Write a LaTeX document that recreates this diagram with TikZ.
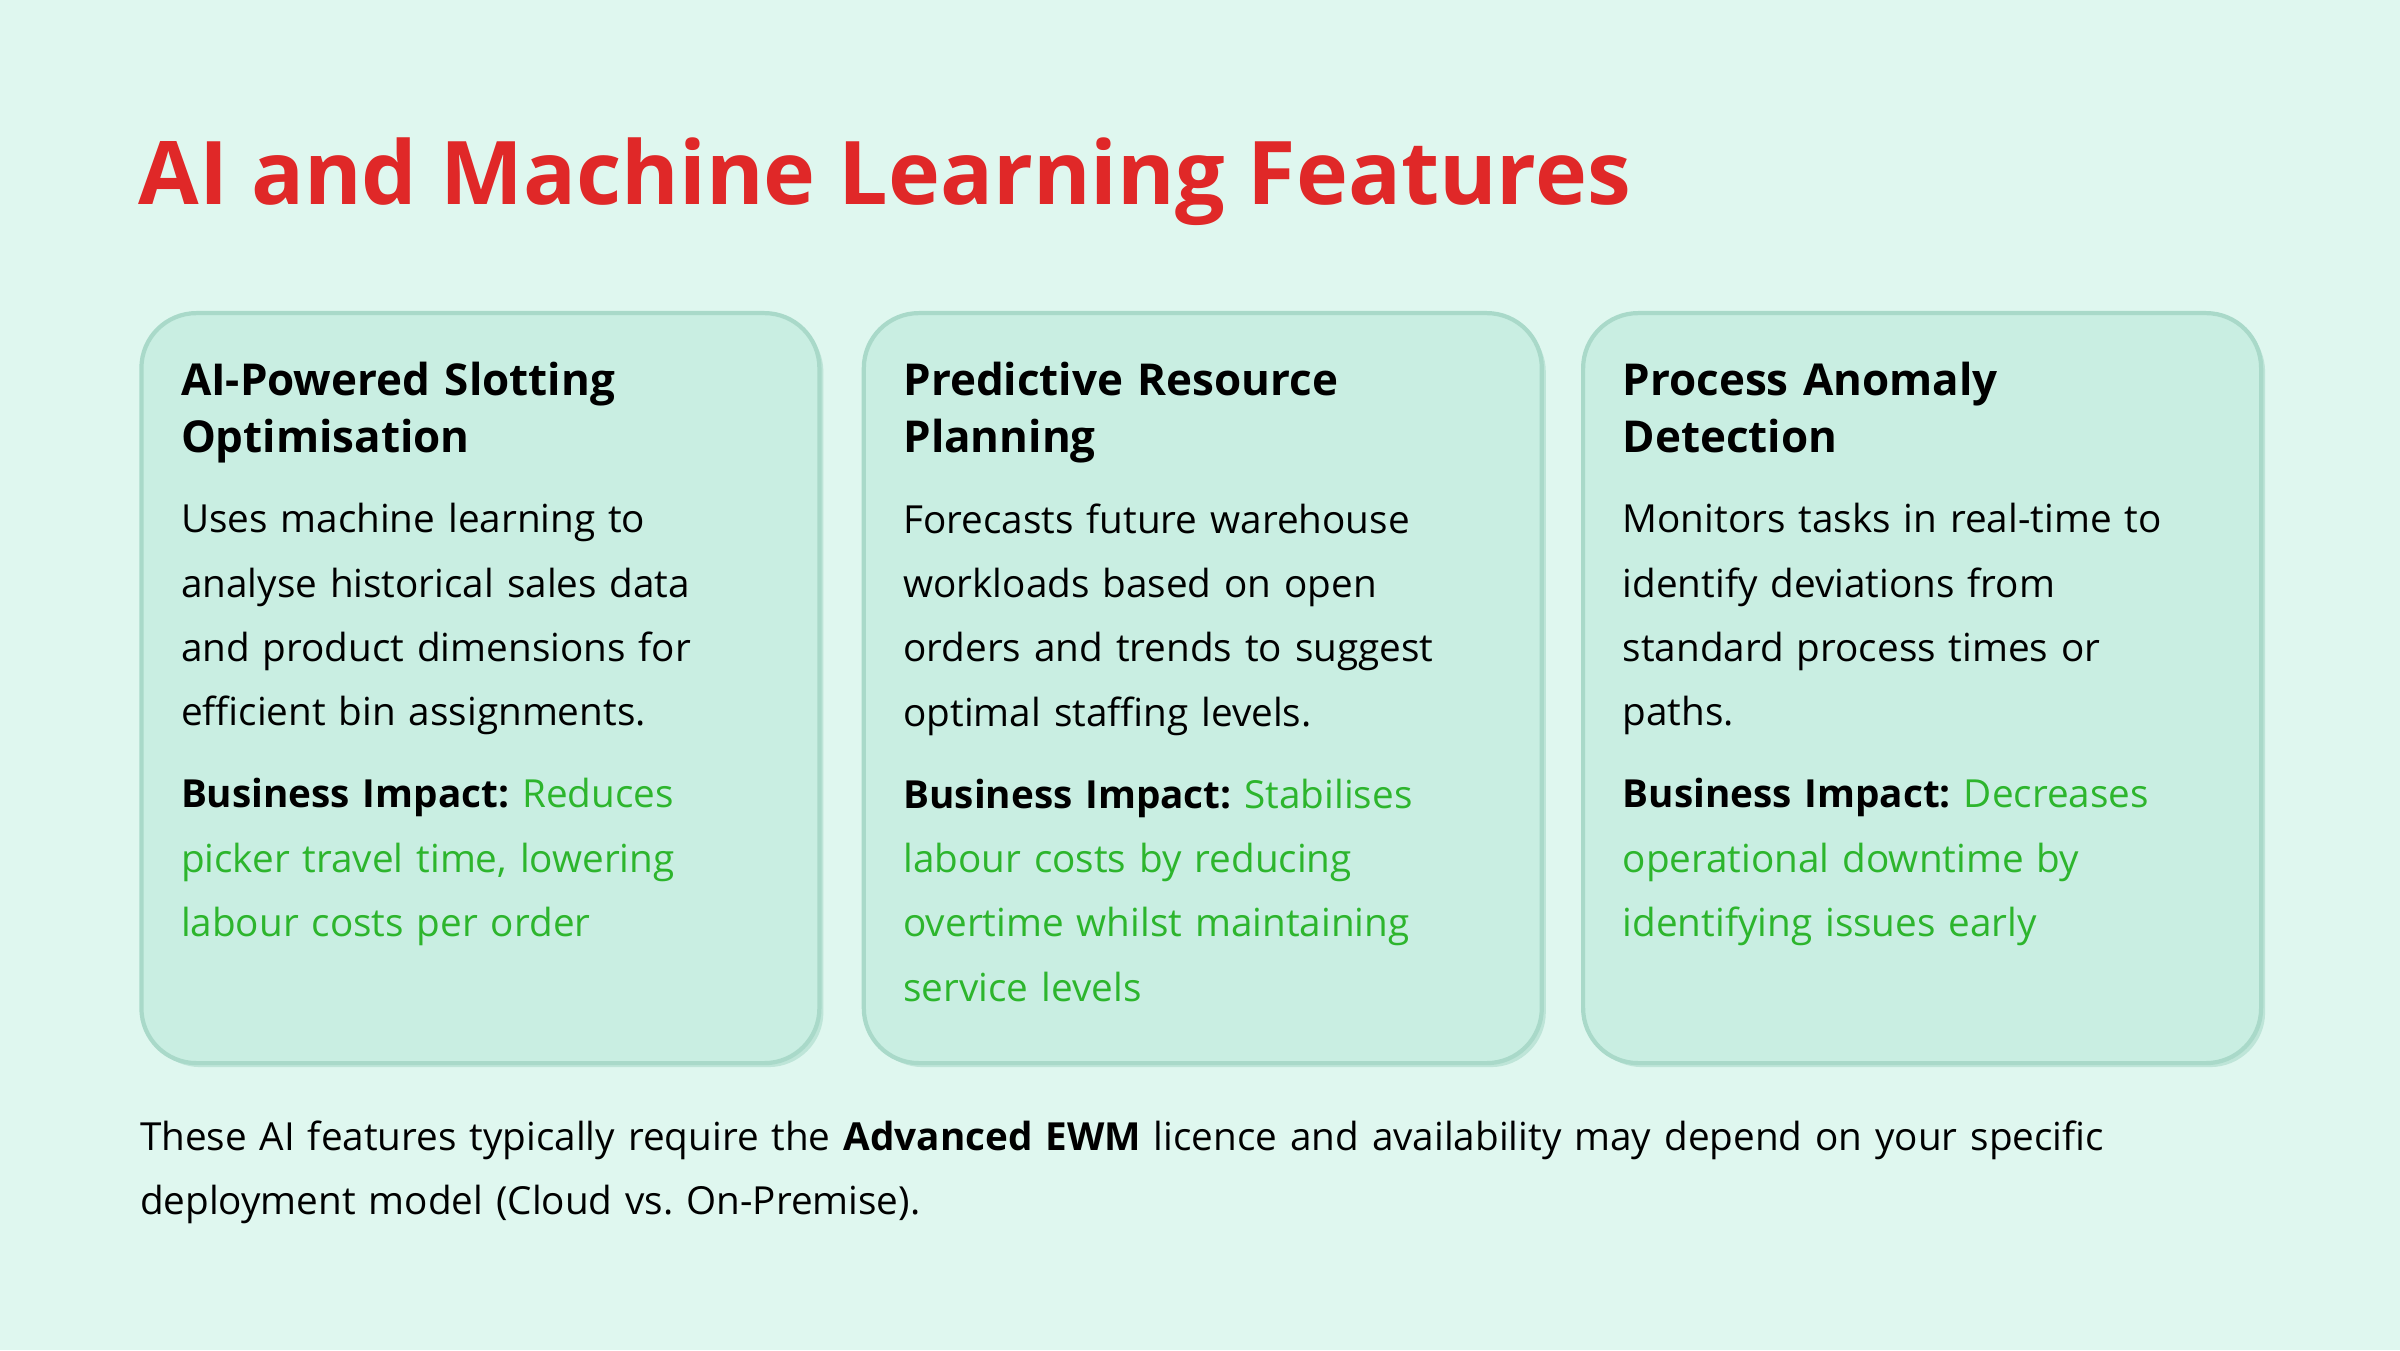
\documentclass[tikz,border=0pt]{standalone}
\usepackage{fontspec}
\setmainfont{Open Sans}
\usetikzlibrary{positioning,shadows}
\definecolor{bgmint}{HTML}{DFF7EF}
\definecolor{cardfill}{HTML}{C9EEE2}
\definecolor{cardline}{HTML}{A9D9C9}
\definecolor{titlered}{HTML}{E02828}
\definecolor{impactgreen}{HTML}{2DB52D}
\frenchspacing
\tikzset{
    card/.style={ % feature boxes
        draw=cardline, line width=1.2pt, fill=cardfill,
        rounded corners=0.55cm, minimum width=6.78cm, minimum height=7.5cm,
        anchor=north west, drop shadow={shadow xshift=0.04cm, shadow yshift=-0.04cm, fill=cardline, opacity=0.6}
    },
    head/.style={anchor=north west, text width=6.3cm, inner sep=0pt, align=left,
        font=\fontsize{12.5}{16.2}\selectfont\bfseries},
    body/.style={anchor=north west, text width=6.3cm, inner sep=0pt, align=left,
        font=\fontsize{11}{18.3}\selectfont},
}
\newcommand{\impact}[1]{\textbf{Business Impact:} \textcolor{impactgreen}{#1}}
\begin{document}
\begin{tikzpicture}
    \fill[bgmint] (0,0) rectangle (24,13.5);
    \useasboundingbox (0,0) rectangle (24,13.5);
    % title
    \node[anchor=base west, inner sep=0pt, text=titlered,
          font=\fontsize{25}{30}\selectfont\bfseries] (title) at (1.38,11.45)
          {AI and Machine Learning Features};
    % cards
    \node[card] (c1) at (1.393,10.39) {};
    \node[card] (c2) at (8.617,10.39) {};
    \node[card] (c3) at (15.81,10.39) {};
    % first card
    \node[head] (h1) at ([shift={(0.41,-0.5)}]c1.north west)
          {AI-Powered Slotting\\Optimisation\strut};
    \node[body, below=0.33cm of h1.south west, anchor=north west] (b1)
          {Uses machine learning to\\analyse historical sales data\\and product dimensions for\\efficient bin assignments.\strut};
    \node[body, below=0.32cm of b1.south west, anchor=north west] (i1)
          {\impact{Reduces\\picker travel time, lowering\\labour costs per order}};
    % second card
    \node[head] (h2) at ([shift={(0.41,-0.5)}]c2.north west)
          {Predictive Resource\\Planning\strut};
    \node[body, below=0.33cm of h2.south west, anchor=north west] (b2)
          {Forecasts future warehouse\\workloads based on open\\orders and trends to suggest\\optimal staffing levels.\strut};
    \node[body, below=0.32cm of b2.south west, anchor=north west] (i2)
          {\impact{Stabilises\\labour costs by reducing\\overtime whilst maintaining\\service levels}};
    % third card
    \node[head] (h3) at ([shift={(0.41,-0.5)}]c3.north west)
          {Process Anomaly\\Detection\strut};
    \node[body, below=0.33cm of h3.south west, anchor=north west] (b3)
          {Monitors tasks in real-time to\\identify deviations from\\standard process times or\\paths.\strut};
    \node[body, below=0.32cm of b3.south west, anchor=north west] (i3)
          {\impact{Decreases\\operational downtime by\\identifying issues early}};
    % footer
    \node[body, text width=21.5cm] (note) at (1.393,2.3)
          {These AI features typically require the \textbf{Advanced EWM} licence and availability may depend on your specific\\deployment model (Cloud vs. On-Premise).};
\end{tikzpicture}
\end{document}
